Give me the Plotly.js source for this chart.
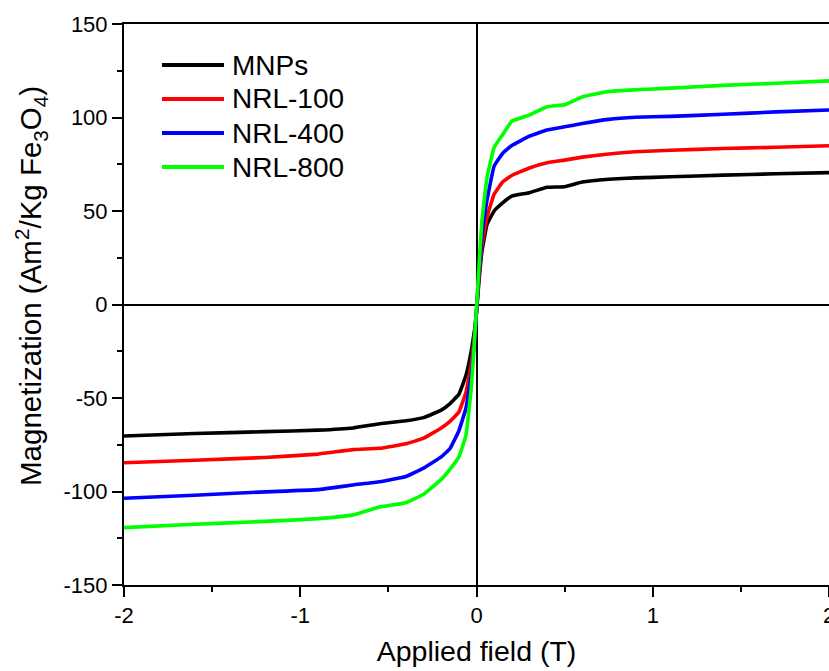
<!DOCTYPE html>
<html>
<head>
<meta charset="utf-8">
<script src="https://cdn.plot.ly/plotly-3.0.1.min.js"></script>
<style>
html,body{margin:0;padding:0;overflow:hidden;background:#fff;}
#chart{width:829px;height:671px;}
</style>
</head>
<body>
<div id="chart"></div>
<script>
var field = [-2, -1.6, -1.2, -0.9, -0.7, -0.55, -0.4, -0.3, -0.2, -0.15, -0.1, -0.06, -0.03, -0.01, 0, 0.01, 0.03, 0.06, 0.1, 0.15, 0.2, 0.3, 0.4, 0.5, 0.6, 0.75, 0.9, 1.1, 1.4, 1.7, 2];

var magMNPs = [-70.3, -69, -68, -67.2, -66, -63.8, -62.2, -60.5, -56.5, -53, -48, -38, -25, -13, -4, 8, 28, 43, 50, 54.5, 58, 59.8, 62.7, 63, 65.5, 67, 67.7, 68.3, 69.2, 69.9, 70.5];
var magNRL100 = [-84.6, -83.3, -81.8, -80, -77.6, -76.9, -74.5, -71.5, -66, -62.5, -57.5, -47, -32, -15, -4, 10, 31, 47, 59, 65.7, 69, 73, 75.8, 77.2, 78.8, 80.5, 81.7, 82.5, 83.4, 84.1, 84.9];
var magNRL400 = [-103.6, -102, -100.2, -99, -96.5, -94.8, -92, -87.5, -81.5, -77, -67.5, -55.5, -38, -17, -4, 12, 36, 56, 74, 81, 85, 90, 93.3, 95, 96.8, 99, 100.1, 100.6, 101.7, 103, 104];
var magNRL800 = [-119.3, -117.5, -116, -114.5, -112.5, -108.3, -106, -101.5, -93.5, -88, -81.5, -70, -45, -17, -2, 14, 44, 68, 84, 91, 98, 101.3, 105.8, 106.8, 111, 113.9, 114.8, 115.7, 117.2, 118.3, 119.6];

var seriesNames = ['MNPs', 'NRL-100', 'NRL-400', 'NRL-800'];
var seriesColors = ['#000000', '#ff0000', '#0000ff', '#00ff00'];
var seriesValues = [magMNPs, magNRL100, magNRL400, magNRL800];

var xTickVals = [-2, -1, 0, 1, 2];
var xTickText = ['-2', '-1', '0', '1', '2'];
var yTickVals = [-150, -100, -50, 0, 50, 100, 150];
var yTickText = ['-150', '-100', '-50', '0', '50', '100', '150'];

var xTitle = 'Applied field (T)';
var yTitle = 'Magnetization (Am<sup>2</sup>/Kg Fe<sub>3</sub>O<sub>4</sub>)';

var traces = seriesNames.map(function (n, i) {
  return {
    x: field,
    y: seriesValues[i],
    type: 'scatter',
    mode: 'lines',
    name: n,
    showlegend: false,
    line: {color: seriesColors[i], width: 3.6, shape: 'spline', smoothing: 0.3}
  };
});

var fontFam = 'Liberation Sans, Arial, sans-serif';

// legend drawn as shapes + annotations in paper coordinates
var W = 829, H = 671, ML = 124, MR = 0, MT = 24, MB = 86;
var pw = W - ML - MR, ph = H - MT - MB;
function px2x(p) { return (p - ML) / pw; }
function py2y(p) { return (H - MB - p) / ph; }

var shapes = [];
var annotations = [];
seriesNames.forEach(function (n, i) {
  var yy = py2y(65 + 34 * i);
  shapes.push({type: 'line', xref: 'paper', yref: 'paper', x0: px2x(162), x1: px2x(224), y0: yy, y1: yy,
    line: {color: seriesColors[i], width: 4}});
  annotations.push({xref: 'paper', yref: 'paper', x: px2x(230), y: yy, xanchor: 'left', yanchor: 'middle',
    text: n, showarrow: false, font: {family: fontFam, size: 28, color: '#000000'}});
});
annotations.push({xref: 'paper', yref: 'paper', x: px2x(31), y: py2y(286), xanchor: 'center', yanchor: 'middle',
  text: yTitle, textangle: -90, showarrow: false, font: {family: fontFam, size: 29.5, color: '#000000'}});

var layout = {
  width: W,
  height: H,
  margin: {l: ML, r: MR, t: MT, b: MB},
  paper_bgcolor: '#ffffff',
  plot_bgcolor: '#ffffff',
  font: {family: fontFam, color: '#000000', size: 22},
  showlegend: false,
  shapes: shapes,
  annotations: annotations,
  xaxis: {
    range: [-2, 2],
    showgrid: false,
    showline: true, linecolor: '#000000', linewidth: 2, mirror: true,
    zeroline: true, zerolinecolor: '#000000', zerolinewidth: 2,
    ticks: 'outside', ticklen: 10, tickwidth: 2, tickcolor: '#000000',
    tickmode: 'array', tickvals: xTickVals, ticktext: xTickText,
    ticklabeloverflow: 'allow',
    minor: {dtick: 0.5, tick0: 0, ticks: 'outside', ticklen: 5, tickwidth: 2, tickcolor: '#000000', showgrid: false},
    tickfont: {family: fontFam, size: 22, color: '#000000'},
    title: {text: xTitle, font: {family: fontFam, size: 28.5, color: '#000000'}, standoff: 14}
  },
  yaxis: {
    range: [-150, 150],
    showgrid: false,
    showline: true, linecolor: '#000000', linewidth: 2, mirror: true,
    zeroline: true, zerolinecolor: '#000000', zerolinewidth: 2,
    ticks: 'outside', ticklen: 10, tickwidth: 2, tickcolor: '#000000',
    tickmode: 'array', tickvals: yTickVals, ticktext: yTickText,
    ticklabeloverflow: 'allow',
    minor: {dtick: 25, tick0: 0, ticks: 'outside', ticklen: 5, tickwidth: 2, tickcolor: '#000000', showgrid: false},
    tickfont: {family: fontFam, size: 22, color: '#000000'}
  }
};

Plotly.newPlot('chart', traces, layout, {displayModeBar: false, staticPlot: true});
</script>
</body>
</html>
